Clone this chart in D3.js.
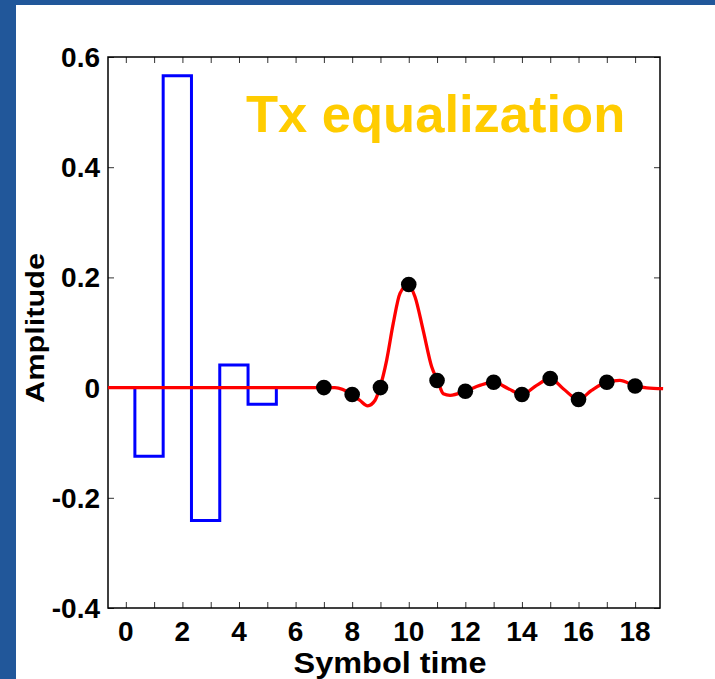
<!DOCTYPE html>
<html>
<head>
<meta charset="utf-8">
<script src="https://cdn.jsdelivr.net/npm/d3@7"></script>
<style>
  html, body { margin: 0; padding: 0; background: #ffffff; }
  svg { display: block; }
  text { font-family: "Liberation Sans", Arial, Helvetica, sans-serif; font-weight: bold; }
</style>
</head>
<body>
<svg id="chart" width="715" height="679"></svg>
<script>
// ---- data ----
const tapStarts = [0.32, 1.32, 2.32, 3.32, 4.32];
const tapValues = [-0.1245, 0.566, -0.241, 0.041, -0.030];
const tapWidth = 1;

const sampleTimes = [7, 8, 9, 10, 11, 12, 13, 14, 15, 16, 17, 18];
const sampleValues = [0.0, -0.0125, 0.0, 0.187, 0.013, -0.0065, 0.0098, -0.0125, 0.0165, -0.0216, 0.0098, 0.003];

const pulseTimes = [-0.63, 7.0, 7.39, 8.0, 8.27, 8.55, 8.81, 8.98, 9.22, 9.45, 9.69, 9.98, 10.22, 10.51, 10.81, 11.02, 11.22, 11.46, 12.0, 12.51, 13.0, 13.52, 14.0, 14.52, 15.0, 15.46, 16.0, 16.46, 17.0, 17.46, 18.0, 18.41, 18.99];
const pulseValues = [0.0, 0.0, 0.0, -0.0125, -0.023, -0.033, -0.023, 0.0, 0.05, 0.116, 0.171, 0.187, 0.165, 0.104, 0.038, 0.013, -0.011, -0.014, -0.0065, 0.004, 0.0098, -0.002, -0.0125, 0.004, 0.0165, -0.002, -0.0216, -0.005, 0.0098, 0.013, 0.003, -0.0005, -0.002];

const xTicks = d3.range(0, 19, 1);
const xTickLabels = [0, 2, 4, 6, 8, 10, 12, 14, 16, 18];
const yTicks = [-0.4, -0.2, 0, 0.2, 0.4, 0.6];
const yTickLabels = ["-0.4", "-0.2", "0", "0.2", "0.4", "0.6"];
const xDomain = [-0.63, 18.88];
const yDomain = [-0.4, 0.6];

const titleText = "Tx equalization";
const xLabel = "Symbol time";
const yLabel = "Amplitude";

// ---- layout ----
const svg = d3.select("#chart");
const W = 715, H = 679;
const L = 108, R = 660, T = 57, B = 608;

// slide frame
svg.append("rect").attr("x", 0).attr("y", 0).attr("width", W).attr("height", H).attr("fill", "#ffffff");
svg.append("rect").attr("x", 0).attr("y", 0).attr("width", W).attr("height", 5).attr("fill", "#21579a");
svg.append("rect").attr("x", 0).attr("y", 0).attr("width", 16).attr("height", H).attr("fill", "#21579a");

const x = d3.scaleLinear().domain(xDomain).range([L, R]);
const y = d3.scaleLinear().domain(yDomain).range([B, T]);

const tickLen = 6;
const g = svg.append("g");

// axes with inward ticks
const bottomAxis = d3.axisBottom(x).tickValues(xTicks).tickSize(-tickLen).tickFormat("");
const topAxis = d3.axisTop(x).tickValues(xTicks).tickSize(-tickLen).tickFormat("");
const leftAxis = d3.axisLeft(y).tickValues(yTicks).tickSize(-tickLen).tickFormat("");
const rightAxis = d3.axisRight(y).tickValues(yTicks).tickSize(-tickLen).tickFormat("");

function styleAxis(sel) {
  sel.select(".domain").remove();
  sel.selectAll(".tick line").attr("stroke", "#333").attr("stroke-width", 1);
}
g.append("g").attr("transform", `translate(0,${B})`).call(bottomAxis).call(styleAxis);
g.append("g").attr("transform", `translate(0,${T})`).call(topAxis).call(styleAxis);
g.append("g").attr("transform", `translate(${L},0)`).call(leftAxis).call(styleAxis);
g.append("g").attr("transform", `translate(${R},0)`).call(rightAxis).call(styleAxis);

// frame box
g.append("rect").attr("x", L).attr("y", T).attr("width", R - L).attr("height", B - T)
  .attr("fill", "none").attr("stroke", "#000").attr("stroke-width", 1.5);

// tick labels
g.selectAll(".xlab").data(xTickLabels).enter().append("text")
  .attr("x", d => x(d)).attr("y", 641)
  .attr("text-anchor", "middle").attr("font-size", 28).attr("fill", "#000")
  .text(d => d);
g.selectAll(".ylab").data(yTicks).enter().append("text")
  .attr("x", L - 8).attr("y", d => y(d) + 10)
  .attr("text-anchor", "end").attr("font-size", 28).attr("fill", "#000")
  .text((d, i) => yTickLabels[i]);

// axis titles
svg.append("text").attr("x", 390).attr("y", 673)
  .attr("text-anchor", "middle").attr("font-size", 29).attr("fill", "#000")
  .attr("textLength", 193).attr("lengthAdjust", "spacingAndGlyphs")
  .text(xLabel);
svg.append("text").attr("transform", "translate(44,328) rotate(-90)")
  .attr("text-anchor", "middle").attr("font-size", 25).attr("fill", "#000")
  .attr("textLength", 150).attr("lengthAdjust", "spacingAndGlyphs")
  .text(yLabel);

// blue stair (transmit equalizer taps)
const stairPts = [[xDomain[0], 0]];
tapStarts.forEach((s, i) => {
  stairPts.push([s, 0]);
  stairPts.push([s, tapValues[i]]);
  stairPts.push([s + tapWidth, tapValues[i]]);
  stairPts.push([s + tapWidth, 0]);
});
stairPts.push([7, 0]);
const lineLin = d3.line().x(d => x(d[0])).y(d => y(d[1]));
g.append("path").datum(stairPts).attr("d", lineLin)
  .attr("fill", "none").attr("stroke", "#0000ff").attr("stroke-width", 3)
  .attr("stroke-linejoin", "miter");

// red pulse response
const pulse = pulseTimes.map((t, i) => [t, pulseValues[i]]);
const lineCurve = d3.line().x(d => x(d[0])).y(d => y(d[1])).curve(d3.curveMonotoneX);
g.append("path").datum(pulse).attr("d", lineCurve)
  .attr("fill", "none").attr("stroke", "#ff0000").attr("stroke-width", 3.3)
  .attr("stroke-linejoin", "round");

// sample dots
g.selectAll(".dot").data(sampleTimes).enter().append("circle")
  .attr("cx", d => x(d)).attr("cy", (d, i) => y(sampleValues[i]))
  .attr("r", 7.8).attr("fill", "#000");

// title
svg.append("text").attr("x", 246).attr("y", 132)
  .attr("font-size", 52.5).attr("fill", "#ffcc00")
  .text(titleText);
</script>
</body>
</html>
